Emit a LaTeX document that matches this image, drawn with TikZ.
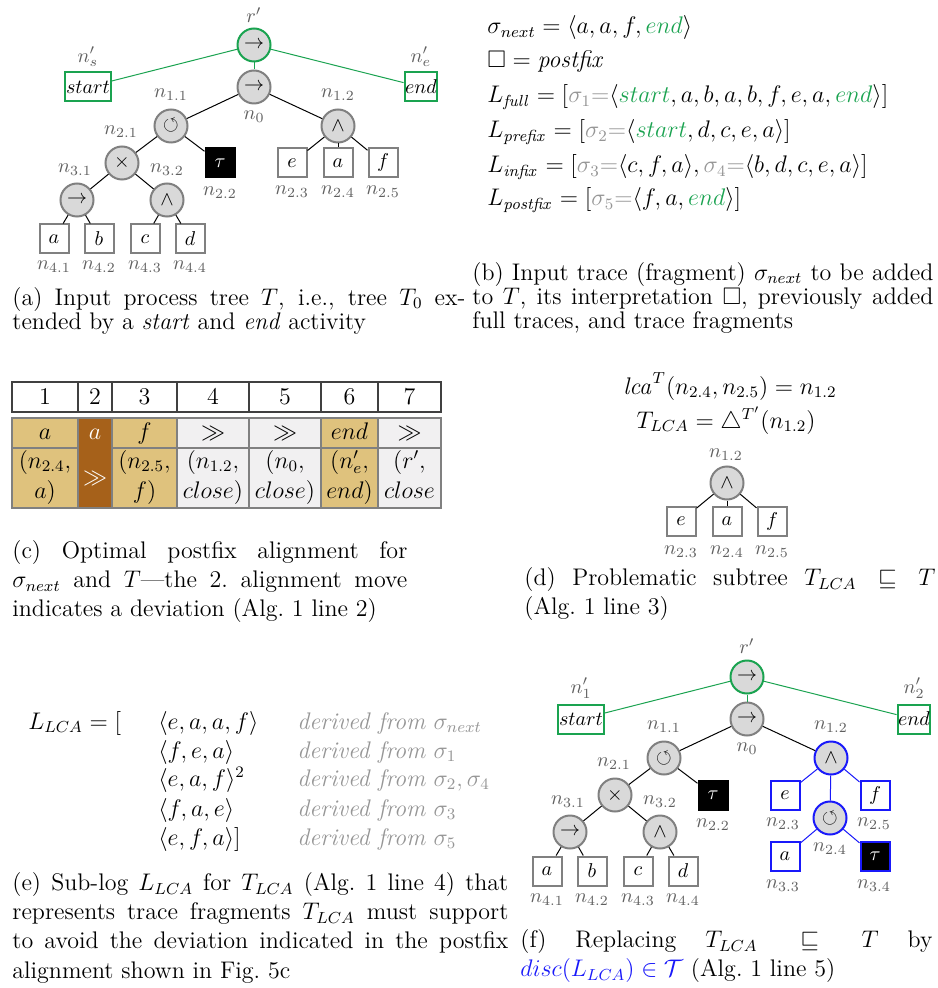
\documentclass[tikz,border=0pt]{standalone}
\usepackage{amsmath,amssymb}
\setlength{\parindent}{0pt}
\hyphenpenalty=10000
\tolerance=10000
\hbadness=10000
\hfuzz=20pt
\lineskiplimit=-100pt
\definecolor{pmgreen}{RGB}{26,163,80}
\definecolor{opgray}{RGB}{128,128,128}
\definecolor{opfill}{RGB}{217,217,217}
\definecolor{lblgray}{RGB}{95,95,95}
\definecolor{tracegray}{RGB}{150,150,150}
\definecolor{mytan}{RGB}{223,194,125}
\definecolor{mybrown}{RGB}{166,97,26}
\definecolor{cellgray}{RGB}{241,240,241}
\definecolor{myblue}{RGB}{25,25,250}
\newcommand{\mytree}{\fontsize{10}{12}\selectfont}
\newcommand{\mycap}{\fontsize{12}{14.6}\selectfont}
\newcommand{\mysmall}{\fontsize{12}{12}\selectfont\lineskiplimit=-100pt}
\tikzset{
  op/.style={circle, draw=opgray, fill=opfill, line width=1pt, minimum size=16.5pt, inner sep=0pt, font=\mytree},
  gop/.style={op, draw=pmgreen},
  bop/.style={op, draw=myblue},
  leaf/.style={rectangle, draw=opgray, fill=white, line width=1pt, minimum width=14.5pt, minimum height=14.5pt, inner xsep=0.3pt, inner ysep=0pt, font=\mytree},
  gleaf/.style={leaf, draw=pmgreen},
  bleaf/.style={leaf, draw=myblue},
  tauleaf/.style={leaf, fill=black, draw=black, text=white},
  btauleaf/.style={tauleaf, draw=myblue},
  lbl/.style={text=lblgray, font=\mytree, inner sep=0pt},
  tedge/.style={line width=0.5pt, black},
  gedge/.style={line width=0.5pt, pmgreen},
  bedge/.style={line width=0.5pt, myblue},
  mtext/.style={font=\mycap, inner sep=0pt},
  captxt/.style={font=\mycap, inner sep=0pt, anchor=north west, align=justify},
  smallcap/.style={font=\mysmall, inner sep=0pt, anchor=north west, align=justify},
  tblhead/.style={line width=0.6pt, black!75},
  tblbody/.style={line width=0.6pt, black!50},
  tbltext/.style={font=\mycap, inner sep=0pt, anchor=base},
}
\begin{document}
\begin{tikzpicture}[x=0.5pt,y=-0.5pt]
\fill[white] (0,0) rectangle (937,988);
\useasboundingbox (0,0) rectangle (937,988);

% ================= (a) tree =================
\node[gop] (ra) at (254,45) {$\rightarrow$};
\node[op] (n0a) at (254,87) {$\rightarrow$};
\node[gleaf] (sa) at (88,87) {$start$};
\node[gleaf] (ea) at (421,87) {$end$};
\node[op] (n11a) at (171,126) {$\circlearrowleft$};
\node[op] (n12a) at (338,126) {$\wedge$};
\node[op] (n21a) at (122,163) {$\times$};
\node[tauleaf] (n22a) at (220,163) {$\tau$};
\node[op] (n31a) at (77,200) {$\rightarrow$};
\node[op] (n32a) at (167,200) {$\wedge$};
\node[leaf] (n41a) at (54,239) {$a$};
\node[leaf] (n42a) at (99,239) {$b$};
\node[leaf] (n43a) at (145,239) {$c$};
\node[leaf] (n44a) at (190,239) {$d$};
\node[leaf] (n23a) at (292,163) {$e$};
\node[leaf] (n24a) at (338,163) {$a$};
\node[leaf] (n25a) at (383,163) {$f$};
\draw[gedge] (ra) -- (sa);
\draw[gedge] (ra) -- (ea);
\draw[gedge] (ra) -- (n0a);
\draw[tedge] (n0a) -- (n11a);
\draw[tedge] (n0a) -- (n12a);
\draw[tedge] (n11a) -- (n21a);
\draw[tedge] (n11a) -- (n22a);
\draw[tedge] (n21a) -- (n31a);
\draw[tedge] (n21a) -- (n32a);
\draw[tedge] (n31a) -- (n41a);
\draw[tedge] (n31a) -- (n42a);
\draw[tedge] (n32a) -- (n43a);
\draw[tedge] (n32a) -- (n44a);
\draw[tedge] (n12a) -- (n23a);
\draw[tedge] (n12a) -- (n24a);
\draw[tedge] (n12a) -- (n25a);
\node[lbl] (lra) at (254,15) {$r'$};
\node[lbl] (lsa) at (88,57) {$n'_s$};
\node[lbl] (lea) at (421,57) {$n'_e$};
\node[lbl] (ln0a) at (254,117) {$n_0$};
\node[lbl] (ln11a) at (171,95) {$n_{1.1}$};
\node[lbl] (ln12a) at (338,95) {$n_{1.2}$};
\node[lbl] (ln21a) at (121,132) {$n_{2.1}$};
\node[lbl] (ln22a) at (220,193) {$n_{2.2}$};
\node[lbl] (ln31a) at (75,170) {$n_{3.1}$};
\node[lbl] (ln32a) at (167,170) {$n_{3.2}$};
\node[lbl] (ln41a) at (54,267) {$n_{4.1}$};
\node[lbl] (ln42a) at (99,267) {$n_{4.2}$};
\node[lbl] (ln43a) at (145,267) {$n_{4.3}$};
\node[lbl] (ln44a) at (190,267) {$n_{4.4}$};
\node[lbl] (ln23a) at (292,192) {$n_{2.3}$};
\node[lbl] (ln24a) at (338,192) {$n_{2.4}$};
\node[lbl] (ln25a) at (383,192) {$n_{2.5}$};

\node[smallcap, text width=226.5pt] (capa) at (12,287) {(a) Input process tree $T$, i.e., tree $T_0$ ex-\linebreak tended by a \textit{start} and \textit{end} activity};

% ================= (b) =================
\node[mtext, anchor=base west] (b1) at (487,34) {$\sigma_{next} = \langle a, a, f, \textcolor{pmgreen}{end}\rangle$};
\node[mtext, anchor=base west] (b2) at (487,68) {$\square = \mathit{postfix}$};
\node[mtext, anchor=base west] (b3) at (487,103) {$L_{\mathit{full}} = [\textcolor{tracegray}{\sigma_1{=}}\langle \textcolor{pmgreen}{start}, a, b, a, b, f, e, a, \textcolor{pmgreen}{end}\rangle]$};
\node[mtext, anchor=base west] (b4) at (487,138) {$L_{\mathit{prefix}} = [\textcolor{tracegray}{\sigma_2{=}}\langle \textcolor{pmgreen}{start}, d, c, e, a\rangle]$};
\node[mtext, anchor=base west] (b5) at (487,173) {$L_{\mathit{infix}} = [\textcolor{tracegray}{\sigma_3{=}}\langle c, f, a\rangle, \textcolor{tracegray}{\sigma_4{=}}\langle b, d, c, e, a\rangle]$};
\node[mtext, anchor=base west] (b6) at (487,206) {$L_{\mathit{postfix}} = [\textcolor{tracegray}{\sigma_5{=}}\langle f, a, \textcolor{pmgreen}{end}\rangle]$};

\node[smallcap, text width=230.5pt] (capb) at (472,262) {(b) Input trace (fragment) $\sigma_{next}$ to be added\linebreak to $T$, its interpretation $\square$, previously added\linebreak full traces, and trace fragments};

% ================= (c) table =================
\draw[tblhead] (12,382) rectangle (441,412);
\foreach \xx in {78,112,177,249,321,378} \draw[tblhead] (\xx,382) -- (\xx,412);
\foreach \cx/\nm in {45/1,95/2,144.5/3,213/4,285/5,349.5/6,409.5/7}
  \node[tbltext] (h\nm) at (\cx,404) {\nm};
\fill[mytan] (12,418) rectangle (78,508);
\fill[mybrown] (78,418) rectangle (112,508);
\fill[mytan] (112,418) rectangle (177,508);
\fill[cellgray] (177,418) rectangle (321,508);
\fill[mytan] (321,418) rectangle (378,508);
\fill[cellgray] (378,418) rectangle (441,508);
\draw[tblbody] (12,418) rectangle (441,508);
\draw[tblbody] (12,448) -- (78,448);
\draw[tblbody] (112,448) -- (441,448);
\foreach \xx in {78,112,177,249,321,378} \draw[tblbody] (\xx,418) -- (\xx,508);
\node[tbltext] (t11) at (45,439) {$a$};
\node[tbltext, text=white] (t12) at (95,439) {$a$};
\node[tbltext] (t13) at (144.5,439) {$f$};
\node[tbltext] (t14) at (213,439) {$\gg$};
\node[tbltext] (t15) at (285,439) {$\gg$};
\node[tbltext] (t16) at (349.5,439) {$end$};
\node[tbltext] (t17) at (409.5,439) {$\gg$};
\node[tbltext] (t21) at (45,468) {$(n_{2.4},$};
\node[tbltext] (t21b) at (45,498) {$a)$};
\node[tbltext, text=white] (t22) at (95,484) {$\gg$};
\node[tbltext] (t23) at (144.5,468) {$(n_{2.5},$};
\node[tbltext] (t23b) at (144.5,498) {$f)$};
\node[tbltext] (t24) at (213,468) {$(n_{1.2},$};
\node[tbltext] (t24b) at (213,498) {$close)$};
\node[tbltext] (t25) at (285,468) {$(n_0,$};
\node[tbltext] (t25b) at (285,498) {$close)$};
\node[tbltext] (t26) at (349.5,468) {$(n'_e,$};
\node[tbltext] (t26b) at (349.5,498) {$end)$};
\node[tbltext] (t27) at (409.5,468) {$(r',$};
\node[tbltext] (t27b) at (409.5,498) {$close$};

\node[captxt, text width=197.5pt] (capc) at (12,540) {(c) Optimal postfix alignment for\linebreak $\sigma_{next}$ and $T$---the 2.\ alignment move\linebreak indicates a deviation (Alg.~1 line 2)};

% ================= (d) =================
\node[mtext, anchor=base] (d1) at (730,394) {$\mathit{lca}^T(n_{2.4}, n_{2.5}) = n_{1.2}$};
\node[mtext, anchor=base] (d2) at (726,428) {$T_{LCA} = \triangle^{T'}(n_{1.2})$};
\begin{scope}[shift={(389,357)}]
\node[op] (n12d) at (338,126) {$\wedge$};
\node[leaf] (n23d) at (292,164) {$e$};
\node[leaf] (n24d) at (338,164) {$a$};
\node[leaf] (n25d) at (383,164) {$f$};
\draw[tedge] (n12d) -- (n23d);
\draw[tedge] (n12d) -- (n24d);
\draw[tedge] (n12d) -- (n25d);
\node[lbl] (ln12d) at (337,98) {$n_{1.2}$};
\node[lbl] (ln23d) at (292,195) {$n_{2.3}$};
\node[lbl] (ln24d) at (338,195) {$n_{2.4}$};
\node[lbl] (ln25d) at (383,195) {$n_{2.5}$};
\end{scope}
\node[captxt, text width=205.5pt] (capd) at (524,567) {(d) Problematic subtree $T_{LCA} \sqsubseteq T$\linebreak (Alg.~1 line 3)};

% ================= (e) =================
\node[mtext, anchor=base west] (e0) at (28,729) {$L_{LCA} = [$};
\node[mtext, anchor=base west] (e1) at (158,729) {$\langle e, a, a, f\rangle$};
\node[mtext, anchor=base west] (e2) at (158,758) {$\langle f, e, a\rangle$};
\node[mtext, anchor=base west] (e3) at (158,786) {$\langle e, a, f\rangle^2$};
\node[mtext, anchor=base west] (e4) at (158,816) {$\langle f, a, e\rangle$};
\node[mtext, anchor=base west] (e5) at (158,845) {$\langle e, f, a\rangle]$};
\node[mtext, anchor=base west, text=tracegray] (g1) at (297,729) {\textit{derived from} $\sigma_{next}$};
\node[mtext, anchor=base west, text=tracegray] (g2) at (297,758) {\textit{derived from} $\sigma_1$};
\node[mtext, anchor=base west, text=tracegray] (g3) at (297,786) {\textit{derived from} $\sigma_2, \sigma_4$};
\node[mtext, anchor=base west, text=tracegray] (g4) at (297,816) {\textit{derived from} $\sigma_3$};
\node[mtext, anchor=base west, text=tracegray] (g5) at (297,845) {\textit{derived from} $\sigma_5$};
\node[captxt, text width=248pt] (cape) at (12,872) {(e) Sub-log $L_{LCA}$ for $T_{LCA}$ (Alg.~1 line 4) that\linebreak represents trace fragments $T_{LCA}$ must support\linebreak to avoid the deviation indicated in the postfix\linebreak alignment shown in Fig.~5c};

% ================= (f) tree =================
\begin{scope}[shift={(493,632)}]
\node[gop] (rf) at (254,45) {$\rightarrow$};
\node[op] (n0f) at (254,87) {$\rightarrow$};
\node[gleaf] (sf) at (88,87) {$start$};
\node[gleaf] (ef) at (421,87) {$end$};
\node[op] (n11f) at (171,126) {$\circlearrowleft$};
\node[bop] (n12f) at (338,126) {$\wedge$};
\node[op] (n21f) at (122,163) {$\times$};
\node[tauleaf] (n22f) at (220,163) {$\tau$};
\node[op] (n31f) at (77,200) {$\rightarrow$};
\node[op] (n32f) at (167,200) {$\wedge$};
\node[leaf] (n41f) at (54,239) {$a$};
\node[leaf] (n42f) at (99,239) {$b$};
\node[leaf] (n43f) at (145,239) {$c$};
\node[leaf] (n44f) at (190,239) {$d$};
\node[bleaf] (n23f) at (292,163) {$e$};
\node[bleaf] (n25f) at (382,163) {$f$};
\node[bop] (n24f) at (337,186) {$\circlearrowleft$};
\node[bleaf] (n33f) at (292,224) {$a$};
\node[btauleaf] (n34f) at (382,224) {$\tau$};
\draw[gedge] (rf) -- (sf);
\draw[gedge] (rf) -- (ef);
\draw[gedge] (rf) -- (n0f);
\draw[tedge] (n0f) -- (n11f);
\draw[tedge] (n0f) -- (n12f);
\draw[tedge] (n11f) -- (n21f);
\draw[tedge] (n11f) -- (n22f);
\draw[tedge] (n21f) -- (n31f);
\draw[tedge] (n21f) -- (n32f);
\draw[tedge] (n31f) -- (n41f);
\draw[tedge] (n31f) -- (n42f);
\draw[tedge] (n32f) -- (n43f);
\draw[tedge] (n32f) -- (n44f);
\draw[bedge] (n12f) -- (n23f);
\draw[bedge] (n12f) -- (n24f);
\draw[bedge] (n12f) -- (n25f);
\draw[bedge] (n24f) -- (n33f);
\draw[bedge] (n24f) -- (n34f);
\node[lbl] (lrf) at (254,14) {$r'$};
\node[lbl] (lsf) at (88,56) {$n'_1$};
\node[lbl] (lef) at (421,56) {$n'_2$};
\node[lbl] (ln0f) at (254,117) {$n_0$};
\node[lbl] (ln11f) at (171,95) {$n_{1.1}$};
\node[lbl] (ln12f) at (338,95) {$n_{1.2}$};
\node[lbl] (ln21f) at (121,132) {$n_{2.1}$};
\node[lbl] (ln22f) at (220,193) {$n_{2.2}$};
\node[lbl] (ln31f) at (75,170) {$n_{3.1}$};
\node[lbl] (ln32f) at (167,170) {$n_{3.2}$};
\node[lbl] (ln41f) at (54,268) {$n_{4.1}$};
\node[lbl] (ln42f) at (99,268) {$n_{4.2}$};
\node[lbl] (ln43f) at (145,268) {$n_{4.3}$};
\node[lbl] (ln44f) at (190,268) {$n_{4.4}$};
\node[lbl] (ln23f) at (290,192) {$n_{2.3}$};
\node[lbl] (ln25f) at (381,192) {$n_{2.5}$};
\node[lbl] (ln24f) at (337,217) {$n_{2.4}$};
\node[lbl] (ln33f) at (290,254) {$n_{3.3}$};
\node[lbl] (ln34f) at (381,254) {$n_{3.4}$};
\end{scope}
\node[captxt, text width=206pt] (capf) at (520,929) {(f) Replacing $T_{LCA} \sqsubseteq T$ by\linebreak \textcolor{myblue}{$disc(L_{LCA}) \in \mathcal{T}$} (Alg.~1 line 5)};
\end{tikzpicture}
\end{document}
